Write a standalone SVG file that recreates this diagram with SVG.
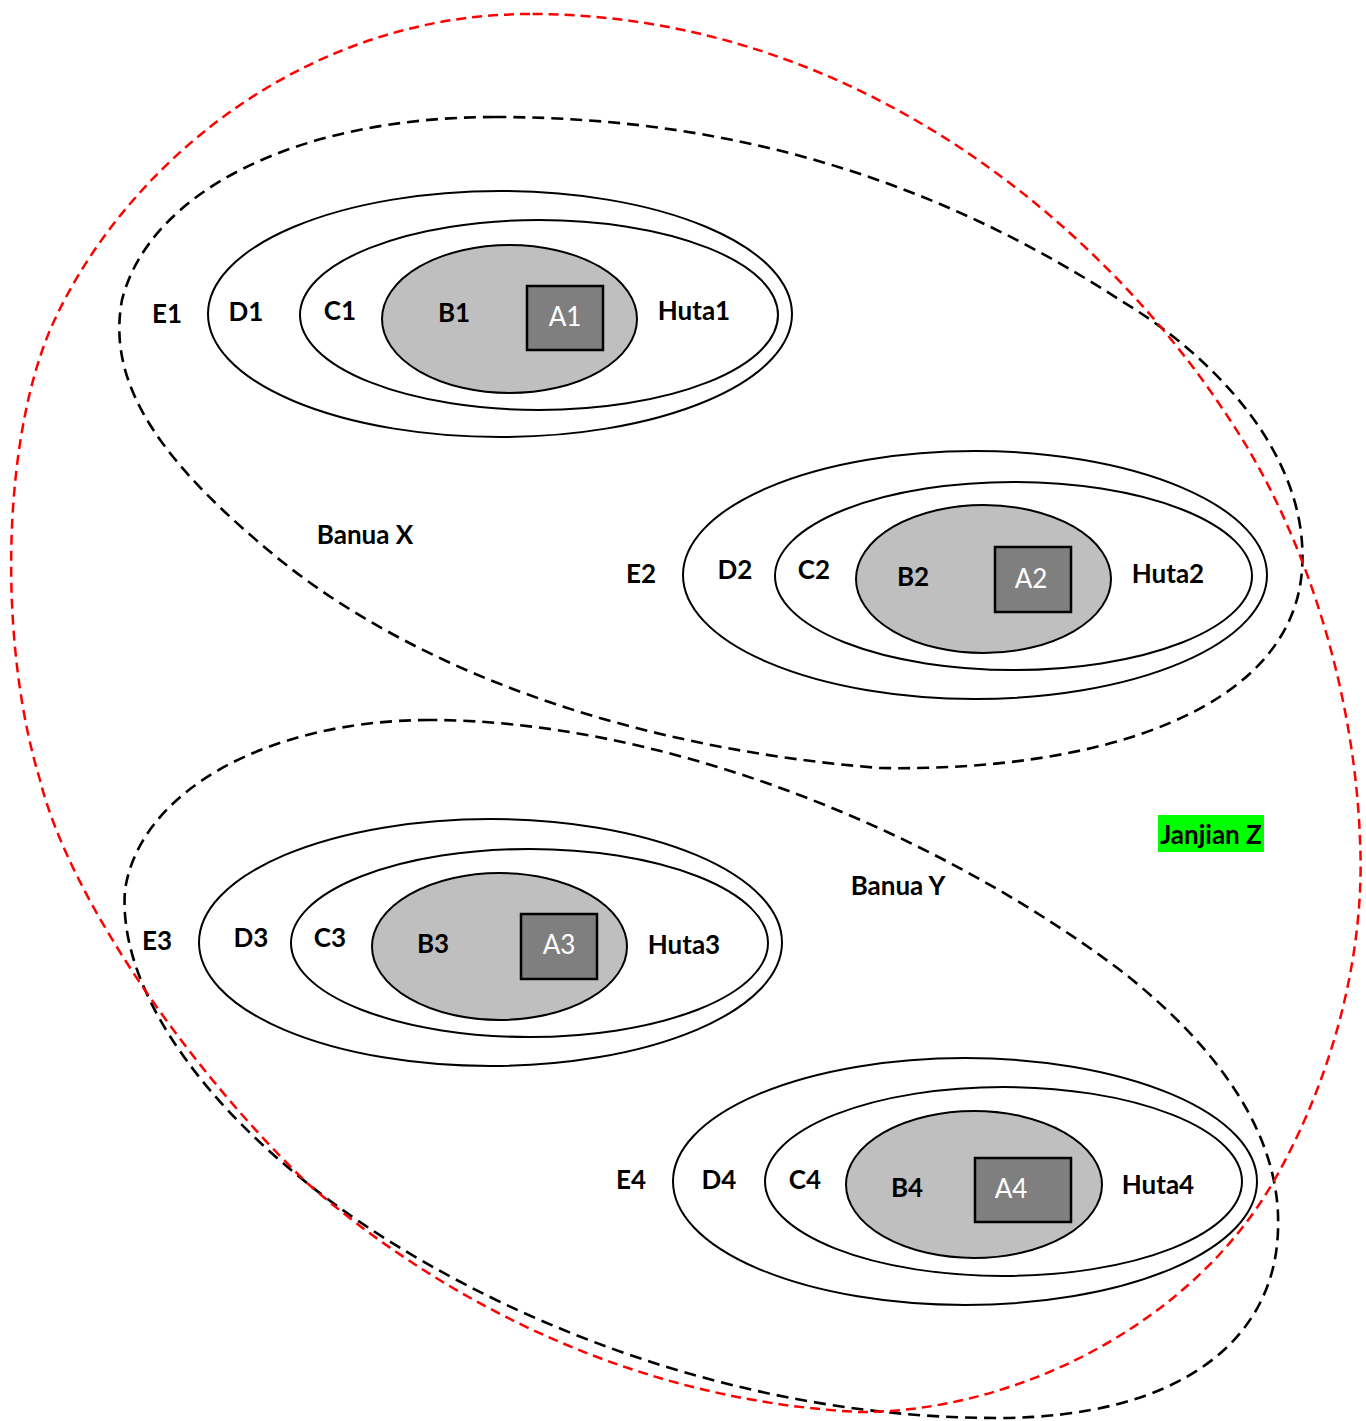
<svg xmlns="http://www.w3.org/2000/svg" width="1366" height="1421" viewBox="0 0 1366 1421">
  <style>
    .ring { fill: #ffffff; stroke: #000000; stroke-width: 2; }
    .core { fill: #bfbfbf; stroke: #000000; stroke-width: 2; }
    .box { fill: #7f7f7f; stroke: #000000; stroke-width: 2.5; }
    .lbl { font-family: Lato, "Liberation Sans", sans-serif; font-weight: bold; font-size: 26px; fill: #000000; text-anchor: middle; dominant-baseline: central; }
    .alb { font-family: Lato, "Liberation Sans", sans-serif; font-size: 26px; fill: #ffffff; text-anchor: middle; dominant-baseline: central; }
    .grp { fill: none; stroke: #000000; stroke-width: 2.6; stroke-dasharray: 12 7; }
    .zone { fill: none; stroke: #ff0000; stroke-width: 2.5; stroke-dasharray: 10 6; }
  </style>

  <!-- Huta 1 -->
  <g id="huta1">
    <ellipse class="ring" cx="500" cy="314" rx="292" ry="123"/>
    <ellipse class="ring" cx="539" cy="315" rx="239" ry="95"/>
    <ellipse class="core" cx="509.5" cy="319" rx="127.5" ry="74"/>
    <rect class="box" x="527" y="286" width="76" height="64"/>
    <text class="lbl" x="167" y="313">E1</text>
    <text class="lbl" x="246" y="311">D1</text>
    <text class="lbl" x="340" y="310">C1</text>
    <text class="lbl" x="454" y="312">B1</text>
    <text class="alb" x="565" y="316">A1</text>
    <text class="lbl" x="694" y="310">Huta1</text>
  </g>

  <!-- Huta 2 -->
  <g id="huta2">
    <ellipse class="ring" cx="975" cy="575" rx="292" ry="124"/>
    <ellipse class="ring" cx="1013.5" cy="576" rx="238.5" ry="94"/>
    <ellipse class="core" cx="983.5" cy="579" rx="127.5" ry="74"/>
    <rect class="box" x="995" y="547" width="76" height="65"/>
    <text class="lbl" x="641" y="573">E2</text>
    <text class="lbl" x="735" y="569">D2</text>
    <text class="lbl" x="814" y="569">C2</text>
    <text class="lbl" x="913" y="576">B2</text>
    <text class="alb" x="1031" y="578">A2</text>
    <text class="lbl" x="1168" y="573">Huta2</text>
  </g>

  <!-- Huta 3 -->
  <g id="huta3">
    <ellipse class="ring" cx="490.5" cy="942.5" rx="291.5" ry="123.5"/>
    <ellipse class="ring" cx="529.5" cy="943" rx="238.5" ry="94"/>
    <ellipse class="core" cx="499.5" cy="946.5" rx="127.5" ry="73.5"/>
    <rect class="box" x="521" y="914" width="76" height="65"/>
    <text class="lbl" x="157" y="940">E3</text>
    <text class="lbl" x="251" y="937">D3</text>
    <text class="lbl" x="330" y="937">C3</text>
    <text class="lbl" x="433" y="943">B3</text>
    <text class="alb" x="559" y="944">A3</text>
    <text class="lbl" x="684" y="944">Huta3</text>
  </g>

  <!-- Huta 4 -->
  <g id="huta4">
    <ellipse class="ring" cx="965" cy="1181.5" rx="292" ry="123.5"/>
    <ellipse class="ring" cx="1003.5" cy="1181.5" rx="238.5" ry="94.5"/>
    <ellipse class="core" cx="974" cy="1184.5" rx="128" ry="73.5"/>
    <rect class="box" x="975" y="1158" width="96" height="64"/>
    <text class="lbl" x="631" y="1179">E4</text>
    <text class="lbl" x="719" y="1179">D4</text>
    <text class="lbl" x="805" y="1179">C4</text>
    <text class="lbl" x="907" y="1187">B4</text>
    <text class="alb" x="1011" y="1188">A4</text>
    <text class="lbl" x="1158" y="1184">Huta4</text>
  </g>

  <!-- group boundaries -->
  <g id="boundaries">
    <path id="banua-x" class="grp" d="M 495,117 C 300,117 150,190 122,300 C 105,390 170,470 280,560 C 430,680 650,750 880,768 C 1100,772 1292,710 1302,570 C 1310,460 1220,360 1120,300 C 950,190 750,117 495,117 Z"/>
    <path id="banua-y" class="grp" d="M 430,720 C 270,720 140,790 125,890 C 118,980 190,1090 307,1183 C 440,1290 700,1418 997,1418 C 1180,1418 1275,1340 1278,1230 C 1282,1130 1210,1040 1120,970 C 920,820 650,720 430,720 Z"/>
    <path id="janjian-z" class="zone" d="M 530,14 C 300,14 120,170 50,330 C 0,450 0,650 40,780 C 70,900 190,1070 307,1183 C 430,1290 620,1400 860,1412 C 1020,1412 1200,1320 1280,1170 C 1340,1060 1365,940 1360,840 C 1355,700 1310,540 1230,420 C 1100,220 850,14 530,14 Z"/>
  </g>

  <g id="labels">
    <text class="lbl" x="365" y="534">Banua X</text>
    <text class="lbl" x="898" y="885">Banua Y</text>
    <rect x="1158" y="815" width="106" height="37" fill="#00ff00"/>
    <text class="lbl" x="1211" y="834">Janjian Z</text>
  </g>
</svg>
